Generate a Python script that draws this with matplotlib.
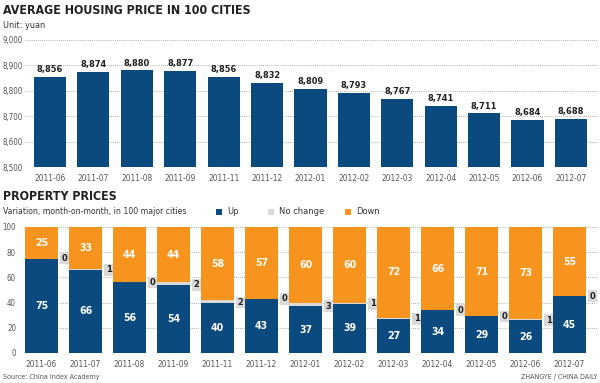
import matplotlib
matplotlib.use("Agg")
import os
import matplotlib.pyplot as plt
from matplotlib.patches import Rectangle
from matplotlib import font_manager
from matplotlib.font_manager import FontProperties

files = [f.fname for f in font_manager.fontManager.ttflist]


def find(keys):
    for k in keys:
        for p in files:
            if os.path.basename(p).lower() == k.lower():
                return p
    return None


reg_path = find(['LiberationSansNarrow-Regular.ttf', 'DejaVuSansCondensed.ttf'])
bold_path = find(['LiberationSansNarrow-Bold.ttf', 'DejaVuSansCondensed-Bold.ttf'])
if reg_path and 'Narrow' in reg_path:
    SF = 1.2
elif reg_path:
    SF = 0.95
else:
    SF = 1.0


def fp(size, bold=False):
    p = bold_path if bold else reg_path
    if p:
        return FontProperties(fname=p, size=size * SF)
    return FontProperties(family=['Liberation Sans', 'DejaVu Sans'],
                          weight='bold' if bold else 'normal', size=size)


# ---- data ----
months = ['2011-06', '2011-07', '2011-08', '2011-09', '2011-11', '2011-12', '2012-01',
          '2012-02', '2012-03', '2012-04', '2012-05', '2012-06', '2012-07']
prices = [8856, 8874, 8880, 8877, 8856, 8832, 8809, 8793, 8767, 8741, 8711, 8684, 8688]
up = [75, 66, 56, 54, 40, 43, 37, 39, 27, 34, 29, 26, 45]
nochange = [0, 1, 0, 2, 2, 0, 3, 1, 1, 0, 0, 1, 0]
down = [25, 33, 44, 44, 58, 57, 60, 60, 72, 66, 71, 73, 55]
price_ticks = [8500, 8600, 8700, 8800, 8900, 9000]
pct_ticks = [0, 20, 40, 60, 80, 100]

BLUE = '#0b4a7e'
ORANGE = '#f7941e'
GRAY = '#d9d9d9'
TXT = '#333333'
TICK = '#555555'
GRID = '#999999'

W, H = 600, 383
fig = plt.figure(figsize=(6, 3.83), dpi=100)


def fx(px):
    return px / W


def fy(py):
    return 1 - py / H


x = list(range(len(months)))


def style_ticks(ax, ypad):
    for s in ax.spines.values():
        s.set_visible(False)
    ax.tick_params(length=0, colors=TICK)
    ax.tick_params(axis='y', pad=ypad)
    ax.tick_params(axis='x', pad=5.2)
    for lab in ax.get_xticklabels():
        lab.set_fontproperties(fp(6.3))
    for lab in ax.get_yticklabels():
        lab.set_fontproperties(fp(6.0))


# ---- top chart ----
ax1 = fig.add_axes([fx(25), fy(167), fx(597) - fx(25), fy(40) - fy(167)])
ax1.bar(x, prices, width=0.74, color=BLUE, zorder=2)
ax1.set_ylim(8500, 9000)
ax1.set_xlim(-0.576, 12.6)
ax1.set_yticks(price_ticks)
ax1.set_yticklabels([f"{v:,}" for v in price_ticks])
ax1.set_xticks(x)
ax1.set_xticklabels(months)
style_ticks(ax1, 1.5)
ax1.grid(axis='y', linestyle=(0, (1, 1.5)), color=GRID, linewidth=0.6, zorder=0)
for xi, v in zip(x, prices):
    ax1.annotate(f"{v:,}", (xi, v), xytext=(0, 2), textcoords='offset points',
                 ha='center', va='bottom', fontproperties=fp(7, True), color='#222222')

fig.text(fx(3), fy(11), "AVERAGE HOUSING PRICE IN 100 CITIES", fontproperties=fp(9.4, True),
         color='#222222', va='center', ha='left')
fig.text(fx(3), fy(26), "Unit: yuan", fontproperties=fp(6.8), color=TXT, va='center', ha='left')

# ---- bottom chart ----
ax2 = fig.add_axes([fx(25), fy(353), fx(597) - fx(25), fy(227) - fy(353)])
bw = 0.73
ax2.bar(x, up, width=bw, color=BLUE, zorder=2)
ax2.bar(x, nochange, width=bw, bottom=up, color=GRAY, zorder=2)
bott = [u + n for u, n in zip(up, nochange)]
ax2.bar(x, down, width=bw, bottom=bott, color=ORANGE, zorder=2)
ax2.set_ylim(0, 100)
ax2.set_xlim(-0.375, 12.625)
ax2.set_yticks(pct_ticks)
ax2.set_xticks(x)
ax2.set_xticklabels(months)
style_ticks(ax2, 6.5)
ax2.grid(axis='y', linestyle=(0, (1, 1.5)), color=GRID, linewidth=0.6, zorder=0)
ax2.axhline(0, linestyle=(0, (1, 1.5)), color=GRID, linewidth=0.6, zorder=0)

for xi, u, n, d, b in zip(x, up, nochange, down, bott):
    ax2.text(xi, u / 2, str(u), ha='center', va='center', color='white',
             fontproperties=fp(8, True), zorder=3)
    ax2.text(xi, b + d / 2, str(d), ha='center', va='center', color='white',
             fontproperties=fp(8, True), zorder=3)
    ax2.annotate(str(n), (xi + bw / 2, u), xytext=(3, 0), textcoords='offset points',
                 ha='left', va='center', fontproperties=fp(7, True), color='#222222',
                 bbox=dict(boxstyle='square,pad=0.15', facecolor=GRAY, edgecolor='none'),
                 zorder=4)

fig.text(fx(3), fy(197), "PROPERTY PRICES", fontproperties=fp(9.4, True),
         color='#222222', va='center', ha='left')
fig.text(fx(3), fy(212), "Variation, month-on-month, in 100 major cities",
         fontproperties=fp(6.5), color=TXT, va='center', ha='left')

# legend
for px, label, col in [(216, "Up", BLUE), (268, "No change", GRAY), (345, "Down", ORANGE)]:
    fig.patches.append(Rectangle((fx(px), fy(215)), fx(6), fy(209) - fy(215),
                                 transform=fig.transFigure, facecolor=col, edgecolor='none'))
    fig.text(fx(px + 11), fy(212), label, fontproperties=fp(7), color=TXT,
             va='center', ha='left')

fig.text(fx(3), fy(377), "Source: China Index Academy", fontproperties=fp(5.4),
         color=TICK, va='center', ha='left')
fig.text(fx(597), fy(377), "ZHANGYE / CHINA DAILY", fontproperties=fp(5.4),
         color=TICK, va='center', ha='right')

fig.savefig("out.png", dpi=100)
